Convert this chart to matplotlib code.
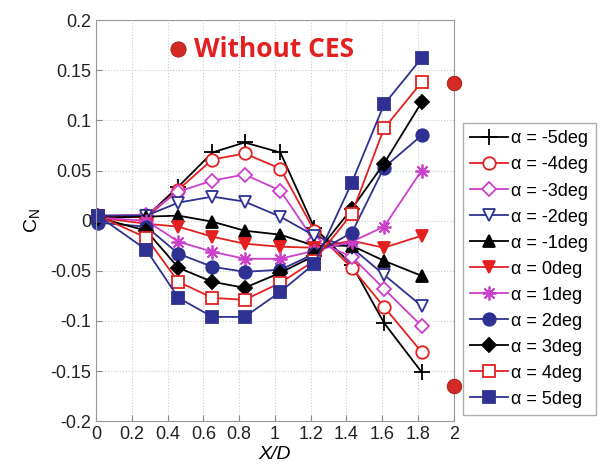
import matplotlib
matplotlib.use("Agg")
import matplotlib.pyplot as plt

plt.rcParams['font.family'] = ['Liberation Sans', 'DejaVu Sans']
plt.rcParams['mathtext.fontset'] = 'custom'
plt.rcParams['mathtext.rm'] = 'Liberation Sans'

# measurement stations X/D
xd = [0.01, 0.28, 0.46, 0.65, 0.83, 1.03, 1.22, 1.43, 1.61, 1.82]

# normal force coefficient for each angle of attack
cn_m5 = [0.005, 0.004, 0.034, 0.068, 0.078, 0.068, -0.007, -0.044, -0.102, -0.151]
cn_m4 = [0.005, 0.003, 0.031, 0.061, 0.067, 0.052, -0.010, -0.047, -0.086, -0.131]
cn_m3 = [0.005, 0.006, 0.029, 0.040, 0.046, 0.030, -0.020, -0.036, -0.068, -0.105]
cn_m2 = [0.005, 0.005, 0.018, 0.024, 0.019, 0.004, -0.015, -0.027, -0.054, -0.085]
cn_m1 = [0.003, 0.004, 0.005, -0.001, -0.010, -0.014, -0.025, -0.025, -0.040, -0.055]
cn_0 = [0.003, -0.003, -0.006, -0.016, -0.023, -0.026, -0.027, -0.020, -0.027, -0.015]
cn_p1 = [0.003, 0.000, -0.021, -0.031, -0.038, -0.038, -0.030, -0.021, -0.006, 0.050]
cn_p2 = [-0.002, -0.006, -0.033, -0.046, -0.051, -0.049, -0.033, -0.012, 0.053, 0.085]
cn_p3 = [0.003, -0.010, -0.047, -0.061, -0.067, -0.052, -0.035, 0.012, 0.057, 0.118]
cn_p4 = [0.005, -0.017, -0.061, -0.077, -0.079, -0.062, -0.040, 0.007, 0.092, 0.138]
cn_p5 = [0.005, -0.029, -0.077, -0.096, -0.096, -0.071, -0.043, 0.038, 0.116, 0.162]

labels = ['α = -5deg', 'α = -4deg', 'α = -3deg', 'α = -2deg', 'α = -1deg',
          'α = 0deg', 'α = 1deg', 'α = 2deg', 'α = 3deg', 'α = 4deg', 'α = 5deg']

blk = '#000000'
red = '#e3201f'
mag = '#cc3fcc'
blu = '#2e3192'

asterisk = (8, 2, 0)

styles = [
    (cn_m5, blk, '+', False, 11),
    (cn_m4, red, 'o', False, 9),
    (cn_m3, mag, 'D', False, 7),
    (cn_m2, blu, 'v', False, 9),
    (cn_m1, blk, '^', True, 9),
    (cn_0, red, 'v', True, 9),
    (cn_p1, mag, asterisk, True, 10),
    (cn_p2, blu, 'o', True, 9),
    (cn_p3, blk, 'D', True, 7),
    (cn_p4, red, 's', False, 8.5),
    (cn_p5, blu, 's', True, 8.5),
]

fig = plt.figure(figsize=(6.05, 4.69), dpi=100)
ax = fig.add_axes([0.159, 0.102, 0.591, 0.855])

for (vals, col, mk, filled, ms), lab in zip(styles, labels):
    ax.plot(xd, vals, color=col, marker=mk, markersize=ms, linewidth=1.3,
            markerfacecolor=col if filled else 'white',
            markeredgecolor=col, markeredgewidth=1.3, label=lab, clip_on=False)

# red sphere markers
ax.scatter([2, 2], [0.137, -0.165], s=110, color='#d42a25', edgecolor='#9a1a15',
           linewidth=0.6, zorder=5, clip_on=False)
ax.scatter([0.46], [0.171], s=120, color='#d42a25', edgecolor='#9a1a15',
           linewidth=0.6, zorder=5, clip_on=False)
ax.text(0.545, 0.171, 'Without CES', color='#e3201f', fontsize=19,
        fontweight='bold', family='Open Sans', va='center', ha='left')

ax.set_xlim(0, 2)
ax.set_ylim(-0.2, 0.2)
ax.set_xticks([0, 0.2, 0.4, 0.6, 0.8, 1, 1.2, 1.4, 1.6, 1.8, 2])
ax.set_xticklabels(['0', '0.2', '0.4', '0.6', '0.8', '1', '1.2', '1.4', '1.6', '1.8', '2'])
ax.set_yticks([-0.2, -0.15, -0.1, -0.05, 0, 0.05, 0.1, 0.15, 0.2])
ax.set_yticklabels(['-0.2', '-0.15', '-0.1', '-0.05', '0', '0.05', '0.1', '0.15', '0.2'])
ax.tick_params(direction='in', length=4, labelsize=13, colors='#888888',
               labelcolor='#222222')
for sp in ax.spines.values():
    sp.set_color('#999999')
ax.grid(True, linestyle=':', color='#cccccc', linewidth=0.8)

ax.set_xlabel('X/D', fontsize=14, style='italic', labelpad=2)
ax.set_ylabel('$\\mathregular{C_N}$', fontsize=14, labelpad=6)

leg = ax.legend(loc='upper left', bbox_to_anchor=(1.025, 0.743), fontsize=13,
                frameon=True, fancybox=False, edgecolor='#999999',
                handlelength=2.1, handletextpad=0.2, labelspacing=0.5,
                borderpad=0.4, borderaxespad=0)

fig.savefig('out.png', dpi=100)
